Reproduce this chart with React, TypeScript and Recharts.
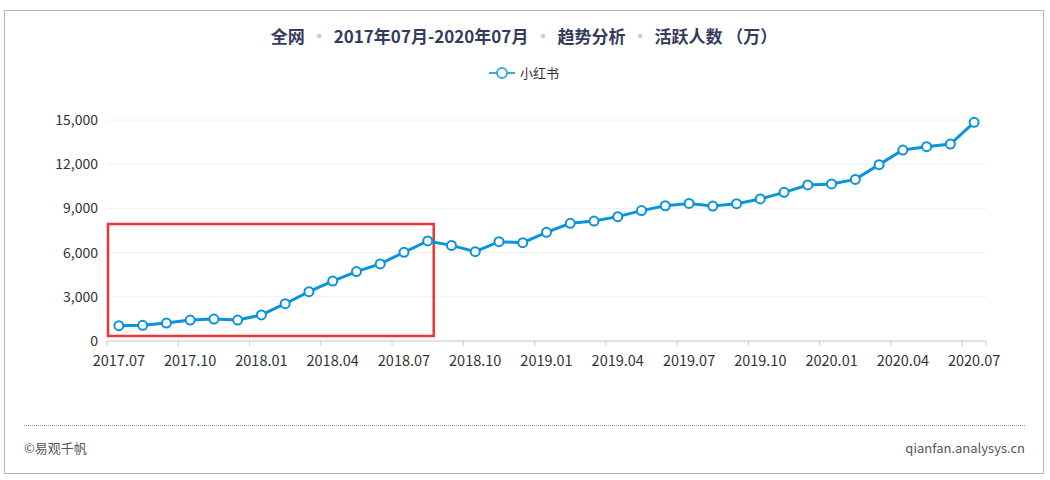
import React from "react";
import {
  LineChart,
  Line,
  XAxis,
  YAxis,
  CartesianGrid,
  ReferenceArea,
} from "recharts";

// 月份（类目）
const months = [
  "2017.07", "2017.08", "2017.09", "2017.10", "2017.11", "2017.12",
  "2018.01", "2018.02", "2018.03", "2018.04", "2018.05", "2018.06",
  "2018.07", "2018.08", "2018.09", "2018.10", "2018.11", "2018.12",
  "2019.01", "2019.02", "2019.03", "2019.04", "2019.05", "2019.06",
  "2019.07", "2019.08", "2019.09", "2019.10", "2019.11", "2019.12",
  "2020.01", "2020.02", "2020.03", "2020.04", "2020.05", "2020.06",
  "2020.07",
];

// 小红书 活跃人数（万）
const activeUsers = [
  1040, 1065, 1220, 1420, 1490, 1420, 1770, 2530, 3350, 4070, 4710, 5230,
  6020, 6790, 6490, 6060, 6740, 6670, 7380, 7990, 8140, 8440, 8850, 9180,
  9340, 9160, 9320, 9640, 10090, 10590, 10660, 10970, 11970, 12960, 13190,
  13370, 14840,
];

const yTicks = [0, 3000, 6000, 9000, 12000, 15000];

// 红框标注的范围
const highlightFrom = "2017.07";
const highlightTo = "2018.08";
const highlightLow = 340;
const highlightHigh = 7940;

const data = months.map((m, i) => ({ month: m, value: activeUsers[i] }));

const W = 1038;
const H = 380;
const MARGIN = { top: 109, right: 57, bottom: 20, left: 42 };
const Y_W = 60;
const BAND = (W - MARGIN.left - Y_W - MARGIN.right) / months.length;

const FONT = '"Microsoft YaHei", "Noto Sans CJK SC", sans-serif';
const LINE_COLOR = "#0b93dc";
const AXIS_COLOR = "#cccccc";

const XTick = (props: any) => {
  const { x, y, payload } = props;
  const axisY = y - 5;
  const last = payload.index === months.length - 1;
  return (
    <g>
      <line x1={x - BAND / 2} x2={x - BAND / 2} y1={axisY} y2={axisY + 5} stroke={AXIS_COLOR} />
      {last && (
        <line x1={x + BAND / 2} x2={x + BAND / 2} y1={axisY} y2={axisY + 5} stroke={AXIS_COLOR} />
      )}
      <text x={x} y={axisY + 25} textAnchor="middle" fontSize={14.5} fill="#333" fontFamily={FONT}>
        {payload.value}
      </text>
    </g>
  );
};

const HighlightBox = (props: any) => {
  const { x, y, width, height } = props;
  return (
    <rect
      x={x - BAND / 2 + 1}
      y={y}
      width={width + BAND / 2 + 5}
      height={height}
      fill="none"
      stroke="#ee3535"
      strokeWidth={2.5}
    />
  );
};

const Sep = () => <span style={{ color: "#c8ccd4", margin: "0 6px" }}>·</span>;

export default function App() {
  return (
    <div
      style={{
        position: "absolute",
        left: 4,
        top: 10,
        width: 1040,
        height: 464,
        boxSizing: "border-box",
        border: "1px solid #b5b5b5",
        background: "#fff",
        fontFamily: FONT,
      }}
    >
      <div
        style={{
          position: "absolute",
          top: 12,
          left: 0,
          width: "100%",
          textAlign: "center",
          fontSize: 17,
          fontWeight: "bold",
          color: "#333c5c",
        }}
      >
        全网<Sep />2017年07月-2020年07月<Sep />趋势分析<Sep />活跃人数 （万）
      </div>

      <div
        style={{
          position: "absolute",
          top: 52,
          left: 0,
          width: "100%",
          display: "flex",
          justifyContent: "center",
          alignItems: "center",
          fontSize: 13,
          color: "#333",
          boxSizing: "border-box",
        }}
      >
        <svg width={26} height={14} style={{ marginRight: 5 }}>
          <line x1={0} x2={26} y1={7} y2={7} stroke="#3aa9e6" strokeWidth={2} />
          <circle cx={13} cy={7} r={5} fill="#fff" stroke="#3aa9e6" strokeWidth={2} />
        </svg>
        小红书
      </div>

      <div style={{ position: "absolute", left: 0, top: 0 }}>
        <LineChart width={W} height={H} data={data} margin={MARGIN}>
          <CartesianGrid vertical={false} stroke="#f0f0f0" />
          <XAxis
            dataKey="month"
            interval={2}
            height={30}
            padding={{ left: BAND / 2, right: BAND / 2 }}
            tickLine={false}
            tickSize={5}
            tickMargin={0}
            stroke={AXIS_COLOR}
            tick={<XTick />}
          />
          <YAxis
            width={Y_W}
            domain={[0, 15000]}
            ticks={yTicks}
            axisLine={false}
            tickLine={false}
            tickSize={0}
            tickMargin={9}
            tick={{ fontSize: 14, fill: "#333", fontFamily: FONT }}
            tickFormatter={(v: number) => v.toLocaleString("en-US")}
          />
          <ReferenceArea
            x1={highlightFrom}
            x2={highlightTo}
            y1={highlightLow}
            y2={highlightHigh}
            shape={<HighlightBox />}
            ifOverflow="visible"
          />
          <Line
            type="linear"
            dataKey="value"
            stroke={LINE_COLOR}
            strokeWidth={3}
            dot={{ r: 4.5, fill: "#fff", stroke: LINE_COLOR, strokeWidth: 2 }}
            isAnimationActive={false}
          />
        </LineChart>
      </div>

      <div
        style={{
          position: "absolute",
          top: 414,
          left: 19,
          right: 18,
          borderTop: "1px dotted #999",
        }}
      />
      <div style={{ position: "absolute", top: 427, left: 19, fontSize: 13, color: "#555" }}>
        ©易观千帆
      </div>
      <div style={{ position: "absolute", top: 427, right: 18, fontSize: 13, color: "#555" }}>
        qianfan.analysys.cn
      </div>
    </div>
  );
}
